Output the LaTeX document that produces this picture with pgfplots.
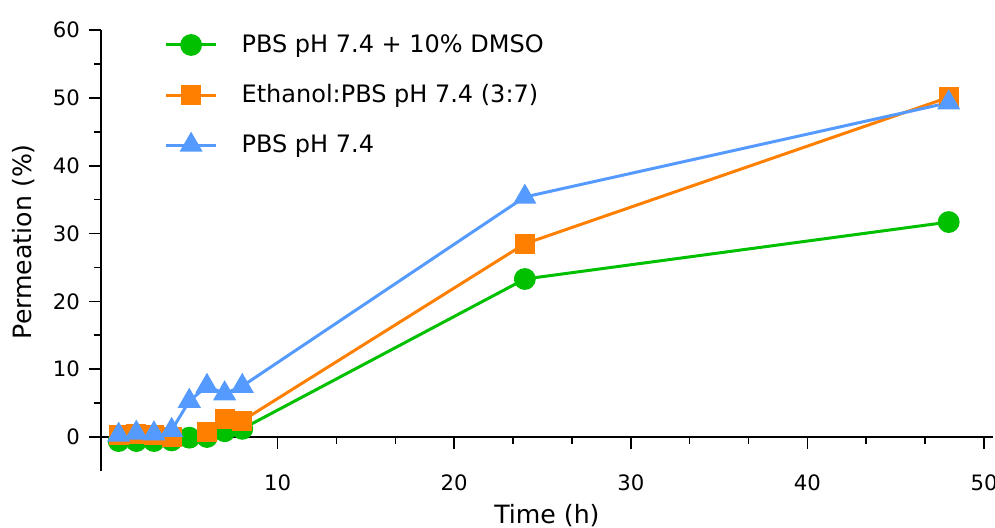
\documentclass[border=0pt]{standalone}
\usepackage{pgfplots}
\pgfplotsset{compat=1.18}
\usepackage{fontspec}
\setmainfont{DejaVu Sans}
\definecolor{cg}{RGB}{0,192,0}
\definecolor{co}{RGB}{255,128,0}
\definecolor{cb}{RGB}{85,155,255}
\begin{document}
\begin{tikzpicture}
\useasboundingbox (-50.5pt,-45.5pt) rectangle (447pt,218.5pt);
\begin{axis}[
  anchor=origin, at={(0,0)},
  x=8.83pt, y=3.39pt,
  xmin=0, xmax=50.5, ymin=-5, ymax=60,
  axis x line=middle, axis y line=left,
  axis line style={-, line width=0.8pt},
  hide obscured x ticks=false, hide obscured y ticks=false,
  xtick={10,20,30,40,50}, ytick={0,10,...,60},
  minor x tick num=2, minor y tick num=1,
  tick align=outside,
  major tick length=6pt, minor tick length=3.5pt,
  every tick/.style={line width=0.8pt, black},
  /pgf/number format/assume math mode=true,
  tick label style={font=\fontsize{10.6}{12}\selectfont},
  xticklabel style={anchor=center, yshift=-17pt},
  yticklabel style={xshift=-1pt},
  xlabel={Time (h)}, ylabel={Permeation (\%)},
  label style={font=\fontsize{12.6}{14}\selectfont},
  xlabel style={at={(axis description cs:0.5,0)}, anchor=center, yshift=-22.5pt},
  ylabel style={at={(axis description cs:-0.087,0.52)}, anchor=center},
  legend style={draw=none, fill=none, at={(axis cs:3.58,60)}, anchor=north west,
    font=\fontsize{12}{14}\selectfont, row sep=10.5pt, column sep=10pt, inner sep=0pt,
    nodes={inner sep=2pt}},
  legend cell align=left,
  legend image code/.code={\draw[mark repeat=2,mark phase=2] plot coordinates {(0pt,0pt)(12.5pt,0pt)(25pt,0pt)};},
  every axis plot/.append style={line width=1.5pt},
]
\addplot[cg, mark=*, mark size=4.7pt, mark options={solid}] coordinates {
 (1,-0.6)(2,-0.6)(3,-0.6)(4,-0.5)(5,-0.1)(6,0.0)(7,0.85)(8,1.2)(24,23.3)(48,31.7)};
\addlegendentry{PBS pH 7.4 + 10\% DMSO}
\addplot[co, mark=square*, mark size=4.3pt, mark options={solid}] coordinates {
 (1,0.35)(2,0.4)(3,0.35)(4,0.0)(6,0.7)(7,2.6)(8,2.4)(24,28.5)(48,50.1)};
\addlegendentry{Ethanol:PBS pH 7.4 (3:7)}
\addplot[cb, mark=triangle*, mark size=5.2pt, mark options={solid}] coordinates {
 (1,0.3)(2,0.6)(3,0.5)(4,1.0)(5,5.3)(6,7.5)(7,6.4)(8,7.5)(24,35.4)(48,49.3)};
\addlegendentry{PBS pH 7.4}
\end{axis}
\end{tikzpicture}
\end{document}
